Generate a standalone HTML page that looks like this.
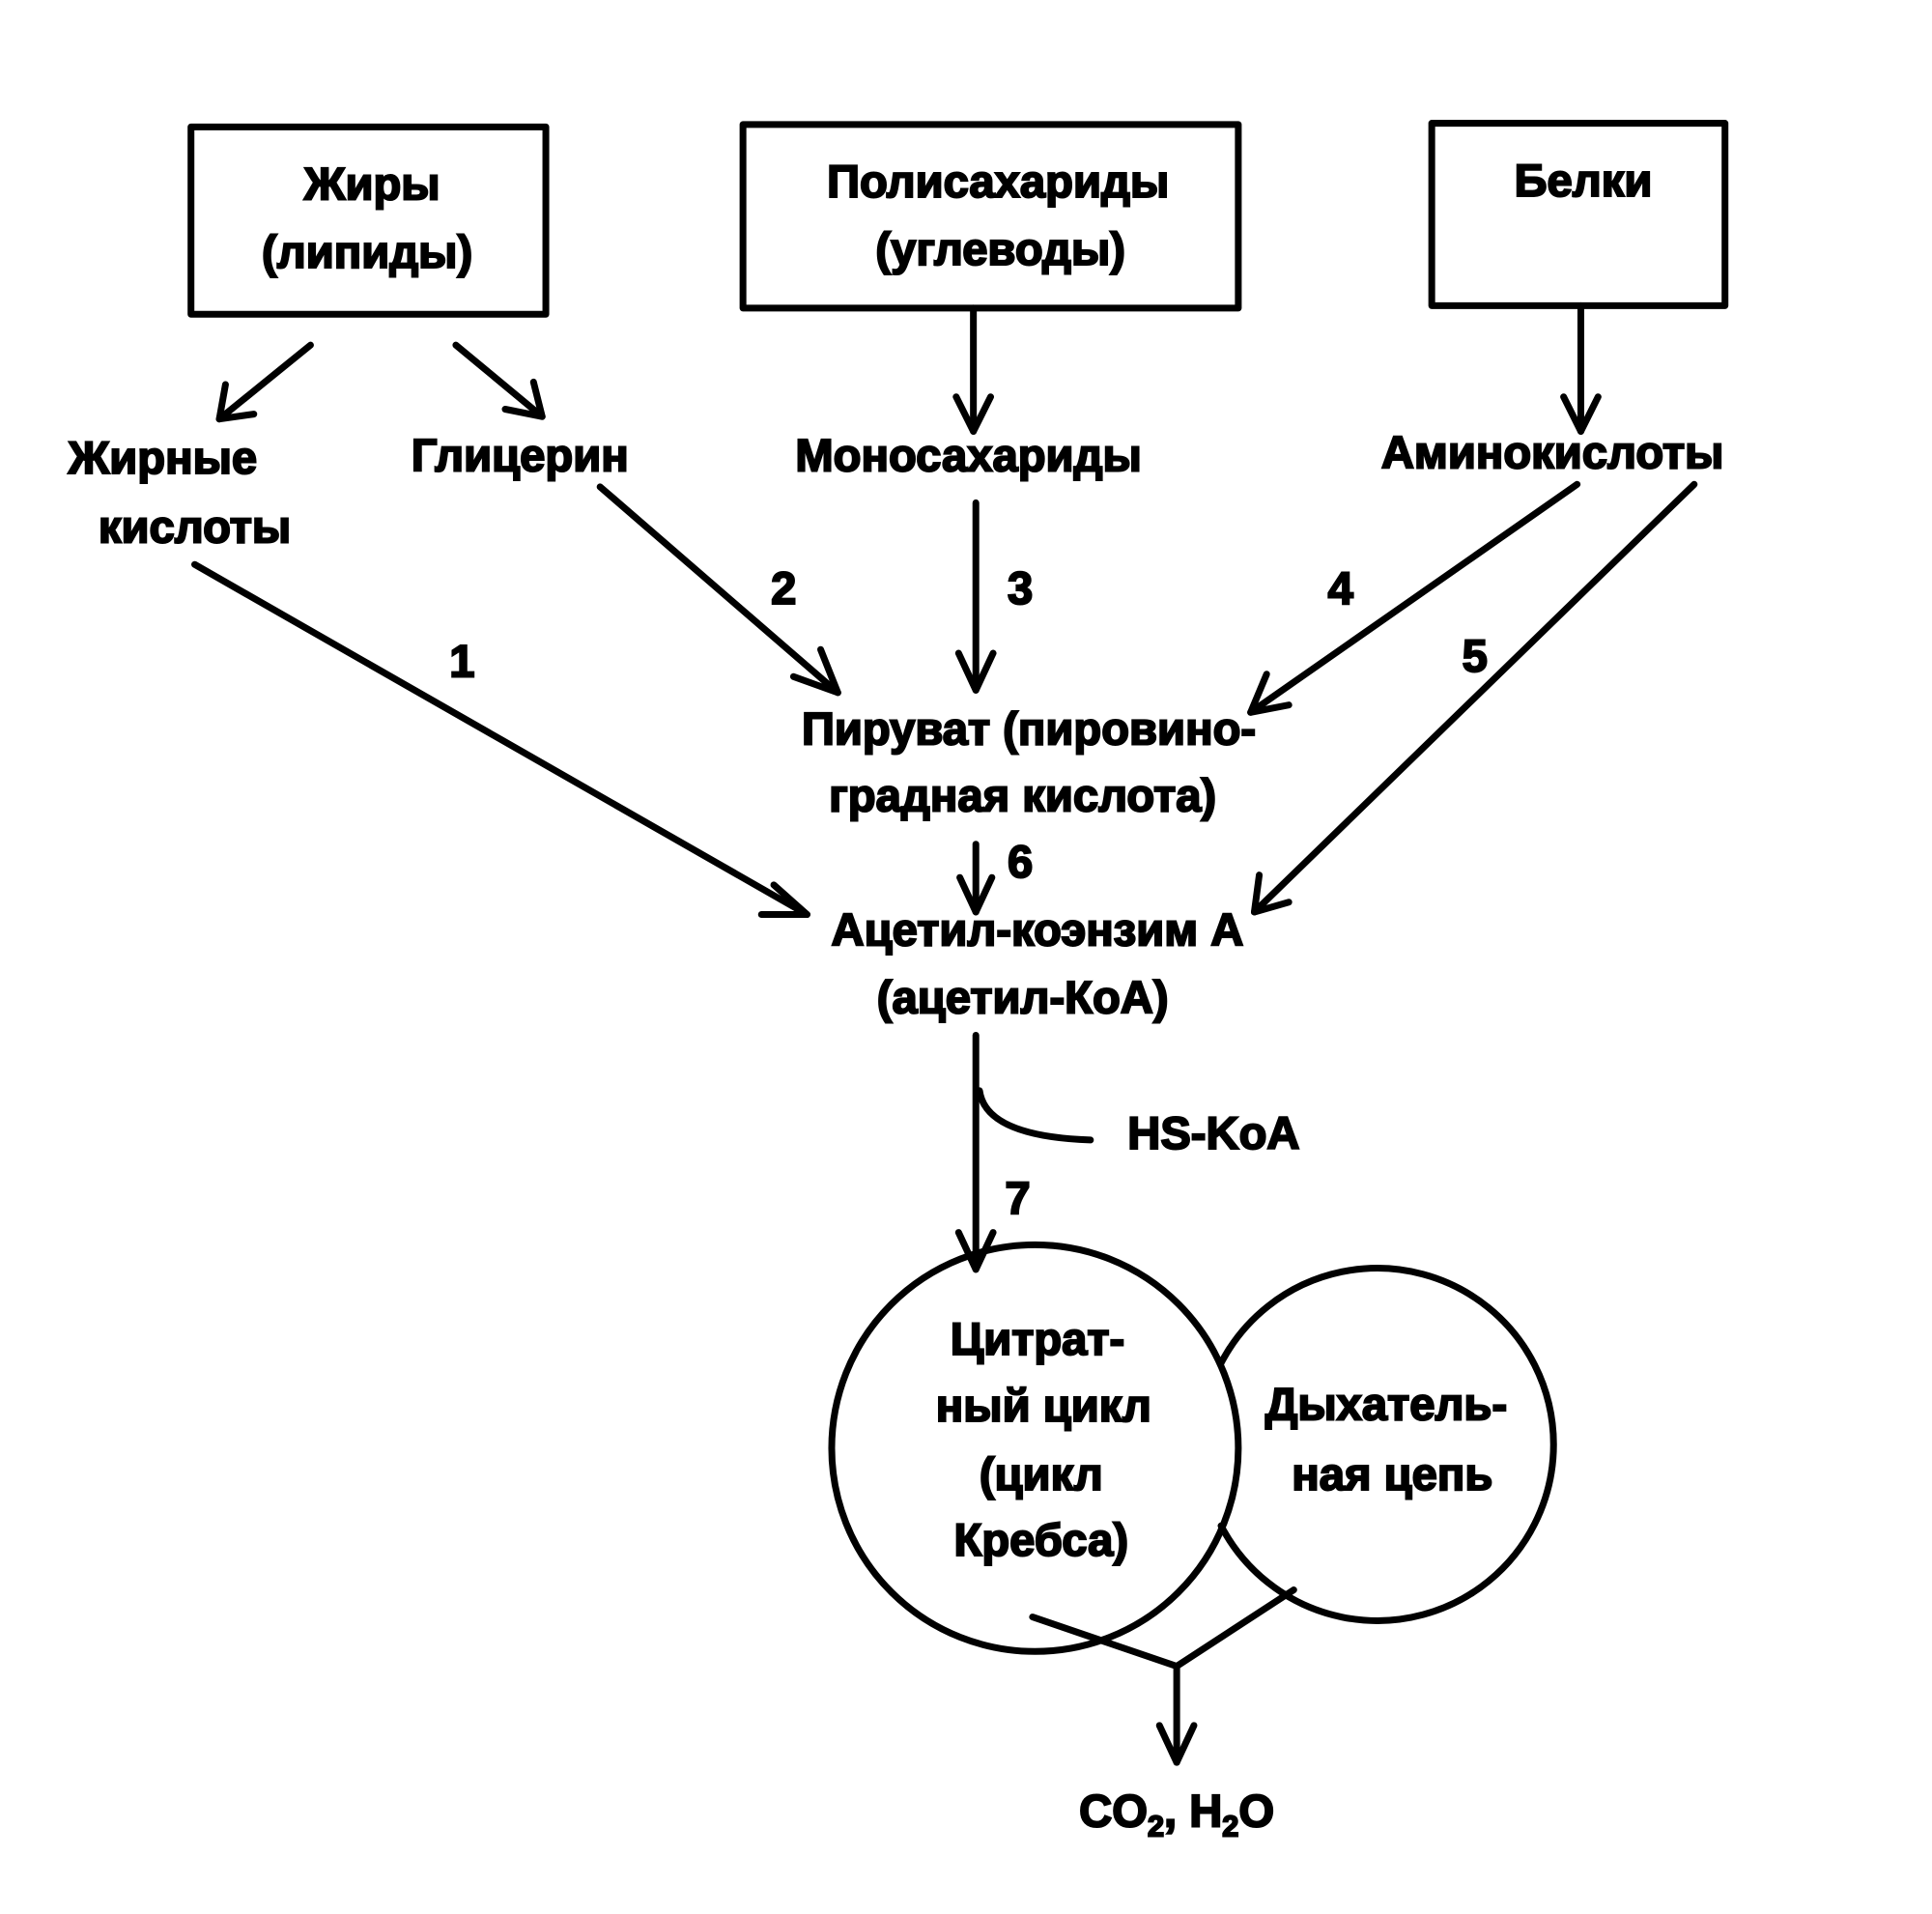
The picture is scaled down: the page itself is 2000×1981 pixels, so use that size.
<!DOCTYPE html>
<html><head><meta charset="utf-8"><style>
html,body{margin:0;padding:0;background:#fff;}
svg{display:block;}
text{font-family:"Liberation Sans","DejaVu Sans",sans-serif;font-weight:bold;font-size:37px;fill:#000;stroke:#000;stroke-width:1.6px;text-anchor:middle;letter-spacing:0px;}
</style></head><body>
<svg width="2000" height="1981" viewBox="0 0 1568 1553" preserveAspectRatio="none" xmlns="http://www.w3.org/2000/svg">
<g fill="none" stroke="#000" stroke-width="5.5" stroke-linecap="round" stroke-linejoin="round">
<rect x="155" y="103" width="288" height="152"/>
<rect x="603" y="101" width="402" height="149"/>
<rect x="1162" y="100" width="238" height="148"/>
<line x1="252" y1="280" x2="178" y2="340"/><polyline points="183,312 178,340 206,336"/>
<line x1="370" y1="280" x2="440" y2="338"/><polyline points="410,332 440,338 433,310"/>
<line x1="790" y1="250" x2="790" y2="350"/><polyline points="776,322 790,350 804,322"/>
<line x1="1283" y1="248" x2="1283" y2="350"/><polyline points="1269,322 1283,350 1297,322"/>
<line x1="158" y1="458" x2="655" y2="742"/><polyline points="628,718 655,742 618,742"/>
<line x1="487" y1="395" x2="680" y2="562"/><polyline points="644,549 680,562 666,527"/>
<line x1="792" y1="408" x2="792" y2="560"/><polyline points="778,530 792,560 806,530"/>
<line x1="1280" y1="393" x2="1015" y2="578"/><polyline points="1028,547 1015,578 1046,572"/>
<line x1="1375" y1="393" x2="1018" y2="740"/><polyline points="1022,710 1018,740 1046,732"/>
<line x1="792" y1="685" x2="792" y2="740"/><polyline points="779,712 792,740 805,712"/>
<line x1="792" y1="840" x2="792" y2="1030"/><polyline points="778,1000 792,1030 806,1000"/>
<path d="M795,885 Q800,922 885,925"/>
<circle cx="840" cy="1175" r="165"/>
<path d="M991,1106 A143,143 0 1 1 991,1238"/>
<polyline points="838,1312 955,1352 1050,1290"/>
<line x1="955" y1="1352" x2="955" y2="1430"/><polyline points="941,1400 955,1430 969,1400"/>
</g>
<text x="302" y="162">Жиры</text>
<text x="298" y="217">(липиды)</text>
<text x="810" y="160">Полисахариды</text>
<text x="812" y="215">(углеводы)</text>
<text x="1285" y="159">Белки</text>
<text x="132" y="384">Жирные</text>
<text x="158" y="440">кислоты</text>
<text x="422" y="382">Глицерин</text>
<text x="786" y="382">Моносахариды</text>
<text x="1260" y="380">Аминокислоты</text>
<text x="375" y="549">1</text>
<text x="636" y="490">2</text>
<text x="828" y="490">3</text>
<text x="1088" y="490">4</text>
<text x="1197" y="545">5</text>
<text x="835" y="604">Пируват (пировино-</text>
<text x="830" y="658">градная кислота)</text>
<text x="828" y="712">6</text>
<text x="842" y="767">Ацетил-коэнзим А</text>
<text x="830" y="822">(ацетил-КоА)</text>
<text x="985" y="932">HS-KoA</text>
<text x="826" y="985">7</text>
<text x="842" y="1099">Цитрат-</text>
<text x="847" y="1153">ный цикл</text>
<text x="845" y="1209">(цикл</text>
<text x="845" y="1262">Кребса)</text>
<text x="1125" y="1152">Дыхатель-</text>
<text x="1130" y="1209">ная цепь</text>
<text x="955" y="1482">CO<tspan font-size="24" dy="8">2</tspan><tspan dy="-8">, H</tspan><tspan font-size="24" dy="8">2</tspan><tspan dy="-8">O</tspan></text>
</svg>
</body></html>
